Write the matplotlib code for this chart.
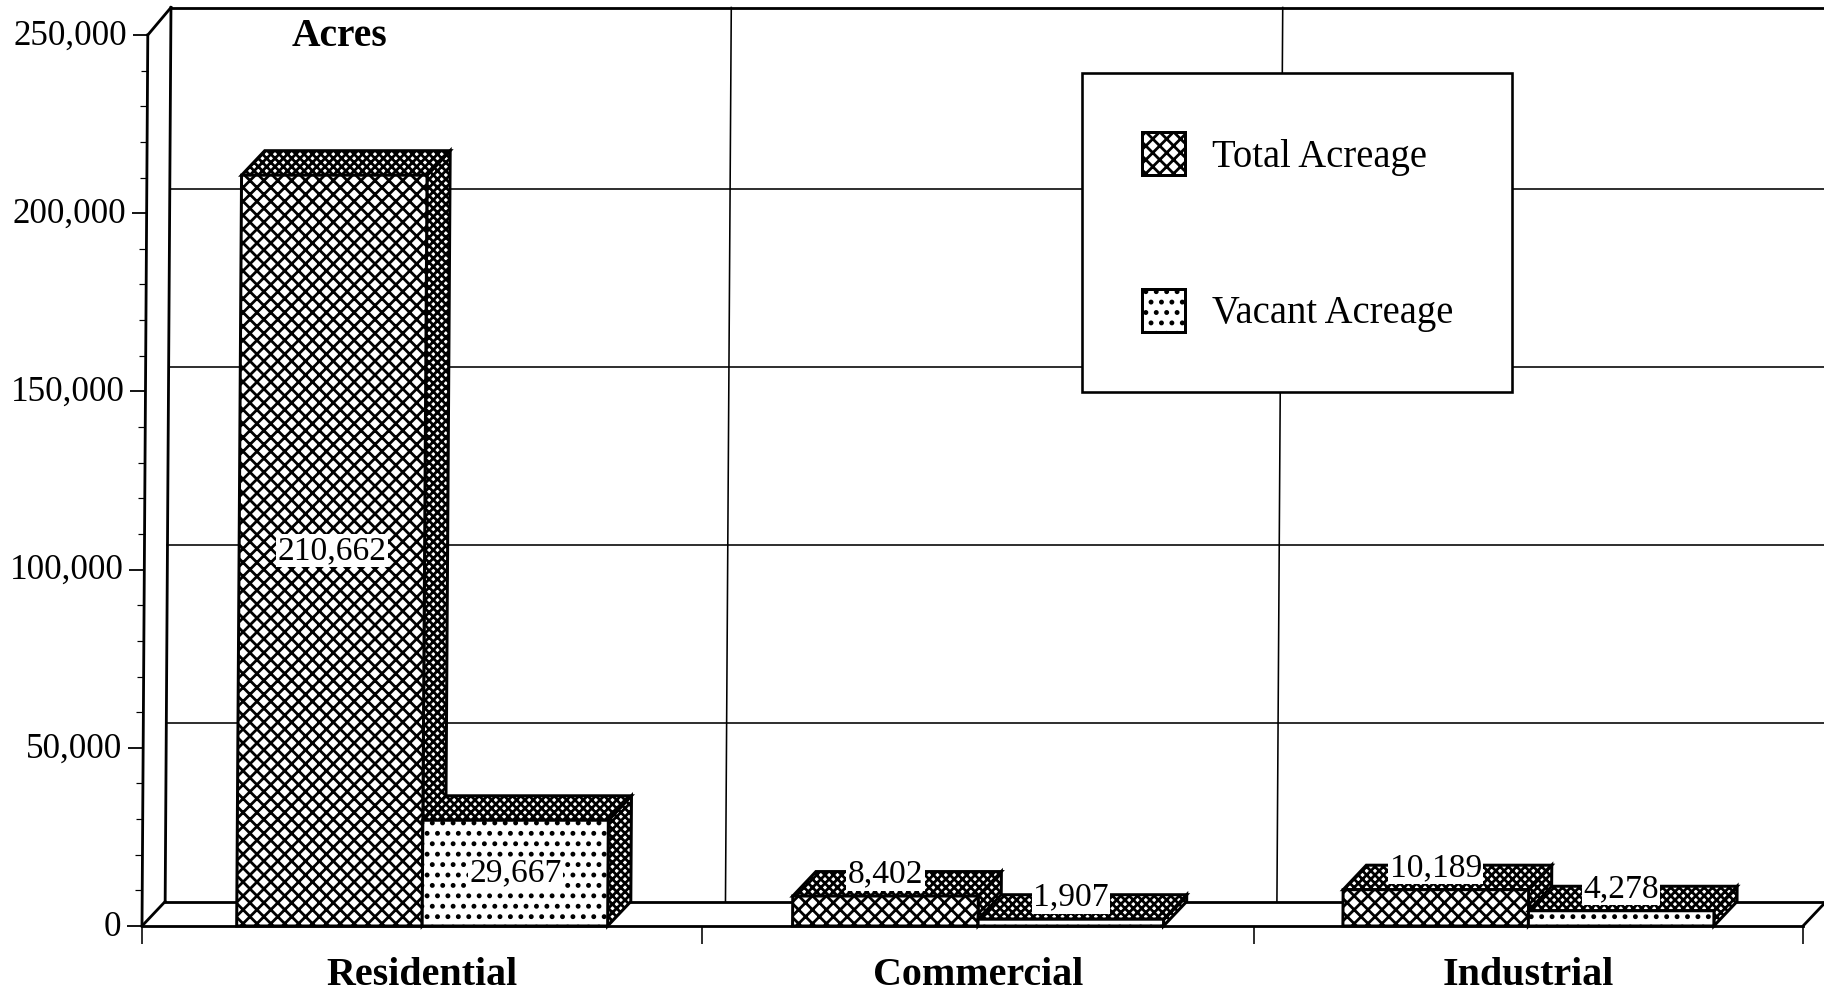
import matplotlib
matplotlib.use("Agg")
import matplotlib.pyplot as plt
from matplotlib.patches import Polygon
from matplotlib.ticker import FuncFormatter
from matplotlib.transforms import Affine2D

categories = ["Residential", "Commercial", "Industrial"]
total_acreage = [210662, 8402, 10189]
vacant_acreage = [29667, 1907, 4278]
series_names = ["Total Acreage", "Vacant Acreage"]
y_ticks = [0, 50000, 100000, 150000, 200000, 250000]
y_minor_ticks = [v for v in range(0, 250001, 10000) if v % 50000 != 0]

DPI = 125
PT = 72 / DPI  # points per pixel
W, H = 1824, 994
LEFT, RIGHT, BOTTOM, TOP = 142, 1803, 926, 35

plt.rcParams["font.family"] = ["Liberation Serif", "DejaVu Serif"]
plt.rcParams["hatch.linewidth"] = 1.6

fig = plt.figure(figsize=(W / DPI, H / DPI), dpi=DPI, facecolor="white")
ax = fig.add_axes([LEFT / W, 1 - BOTTOM / H, (RIGHT - LEFT) / W, (BOTTOM - TOP) / H])
ax.set_xlim(0, 3)
ax.set_ylim(0, 250000)
ax.patch.set_visible(False)
for s in ax.spines.values():
    s.set_visible(False)

# the scan leans slightly to the right going up
skew = Affine2D().translate(0, -(H - BOTTOM)).skew(0.0065, 0).translate(0, H - BOTTOM)
tr = ax.transData + skew

depth_x = 23 * 3 / (RIGHT - LEFT)
depth_y = 24.5 * 250000 / (BOTTOM - TOP)
wall_top = 250000 + depth_y + 3 * 250000 / (BOTTOM - TOP)

cat_edges = [0, 1.012, 2.008, 3]
centers = [(cat_edges[i] + cat_edges[i + 1]) / 2 for i in range(3)]
bar_w = 0.335


def line(xs, ys, lw, z=1):
    ax.plot(xs, ys, color="black", lw=lw * PT, transform=tr, clip_on=False, zorder=z,
            solid_capstyle="projecting")


# back wall and floor
for v in y_ticks[1:-1]:
    line([depth_x, 3 + depth_x], [v + depth_y, v + depth_y], 1.6)
for e in cat_edges[1:3]:
    line([e + depth_x, e + depth_x], [depth_y, wall_top], 1.6)
line([depth_x, 3 + depth_x], [depth_y, depth_y], 2.8)
line([depth_x, 3 + depth_x], [wall_top, wall_top], 2.8)
line([depth_x, depth_x], [depth_y, wall_top], 2.8)
line([0, 0], [0, 250000], 2.8)
line([0, depth_x], [250000, wall_top], 2.8)
line([0, depth_x], [0, depth_y], 2.8)
line([0, 3], [0, 0], 2.8, z=6)
line([3, 3 + depth_x], [0, depth_y], 2.8)


def box(x0, h, hatch, name, z):
    bars = ax.bar(x0, h, bar_w, align="edge", facecolor="white", edgecolor="black", hatch=hatch,
                  lw=3 * PT, transform=tr, zorder=z + 0.2, clip_on=False, label=name)
    x1 = x0 + bar_w
    top = [(x0, h), (x0 + depth_x, h + depth_y), (x1 + depth_x, h + depth_y), (x1, h)]
    side = [(x1, 0), (x1 + depth_x, depth_y), (x1 + depth_x, h + depth_y), (x1, h)]
    for pts in (side, top):
        ax.add_patch(Polygon(pts, facecolor="white", edgecolor="black", hatch="xxxxx",
                             lw=3 * PT, transform=tr, zorder=z, clip_on=False))
    return bars


handles = []
for i, c in enumerate(centers):
    b1 = box(c - bar_w, total_acreage[i], "xxx", series_names[0], 2)
    b2 = box(c, vacant_acreage[i], "..", series_names[1], 3)
    if i == 0:
        handles = [b1, b2]


def value_label(x, h):
    # tall bars carry the value in the middle, short ones on the top face
    if h > 20000:
        y, off = h / 2, 0
    else:
        y, off = h, 22 * PT
    ax.annotate(f"{h:,}", xy=(x, y), xycoords=tr, xytext=(0, off), textcoords="offset points",
                ha="center", va="center", fontsize=33.5 * PT, zorder=7,
                bbox=dict(boxstyle="square,pad=0.04", fc="white", ec="none"))


for i, c in enumerate(centers):
    value_label(c - bar_w / 2, total_acreage[i])
    value_label(c + bar_w / 2, vacant_acreage[i])

# axes
ax.set_yticks(y_ticks)
ax.set_yticks(y_minor_ticks, minor=True)
ax.yaxis.set_major_formatter(FuncFormatter(lambda v, p: f"{int(v):,}"))
ax.tick_params(axis="y", which="major", length=15 * PT, width=1.8 * PT, pad=6 * PT, labelsize=35 * PT)
ax.tick_params(axis="y", which="minor", length=7 * PT, width=1.2 * PT)
for t in ax.yaxis.get_major_ticks() + ax.yaxis.get_minor_ticks():
    t.tick1line.set_transform(t.tick1line.get_transform() + skew)
    t.label1.set_transform(t.label1.get_transform() + skew + Affine2D().translate(0, 3))

ax.set_xticks(centers, categories)
ax.set_xticks(cat_edges, minor=True)
ax.tick_params(axis="x", which="major", length=0, pad=31 * PT, labelsize=40 * PT)
ax.tick_params(axis="x", which="minor", length=18 * PT, width=1.6 * PT)
for lab in ax.get_xticklabels():
    lab.set_fontweight("bold")

fig.text(340 / W, 1 - 36 / H, "Acres", fontsize=39.5 * PT, fontweight="bold", ha="center", va="center")

leg_px = 38.7
leg = ax.legend(handles, series_names, loc="upper left", bbox_to_anchor=(1082 / W, 1 - 73 / H),
                bbox_transform=fig.transFigure, borderaxespad=0, fontsize=leg_px * PT, frameon=True,
                fancybox=False, edgecolor="black", framealpha=1, borderpad=59.5 / leg_px,
                handlelength=43 / leg_px, handleheight=1.33, handletextpad=27 / leg_px,
                labelspacing=113 / leg_px)
leg.get_frame().set_linewidth(2.6 * PT)
leg.set_zorder(8)

fig.savefig("out.png", dpi=DPI)
